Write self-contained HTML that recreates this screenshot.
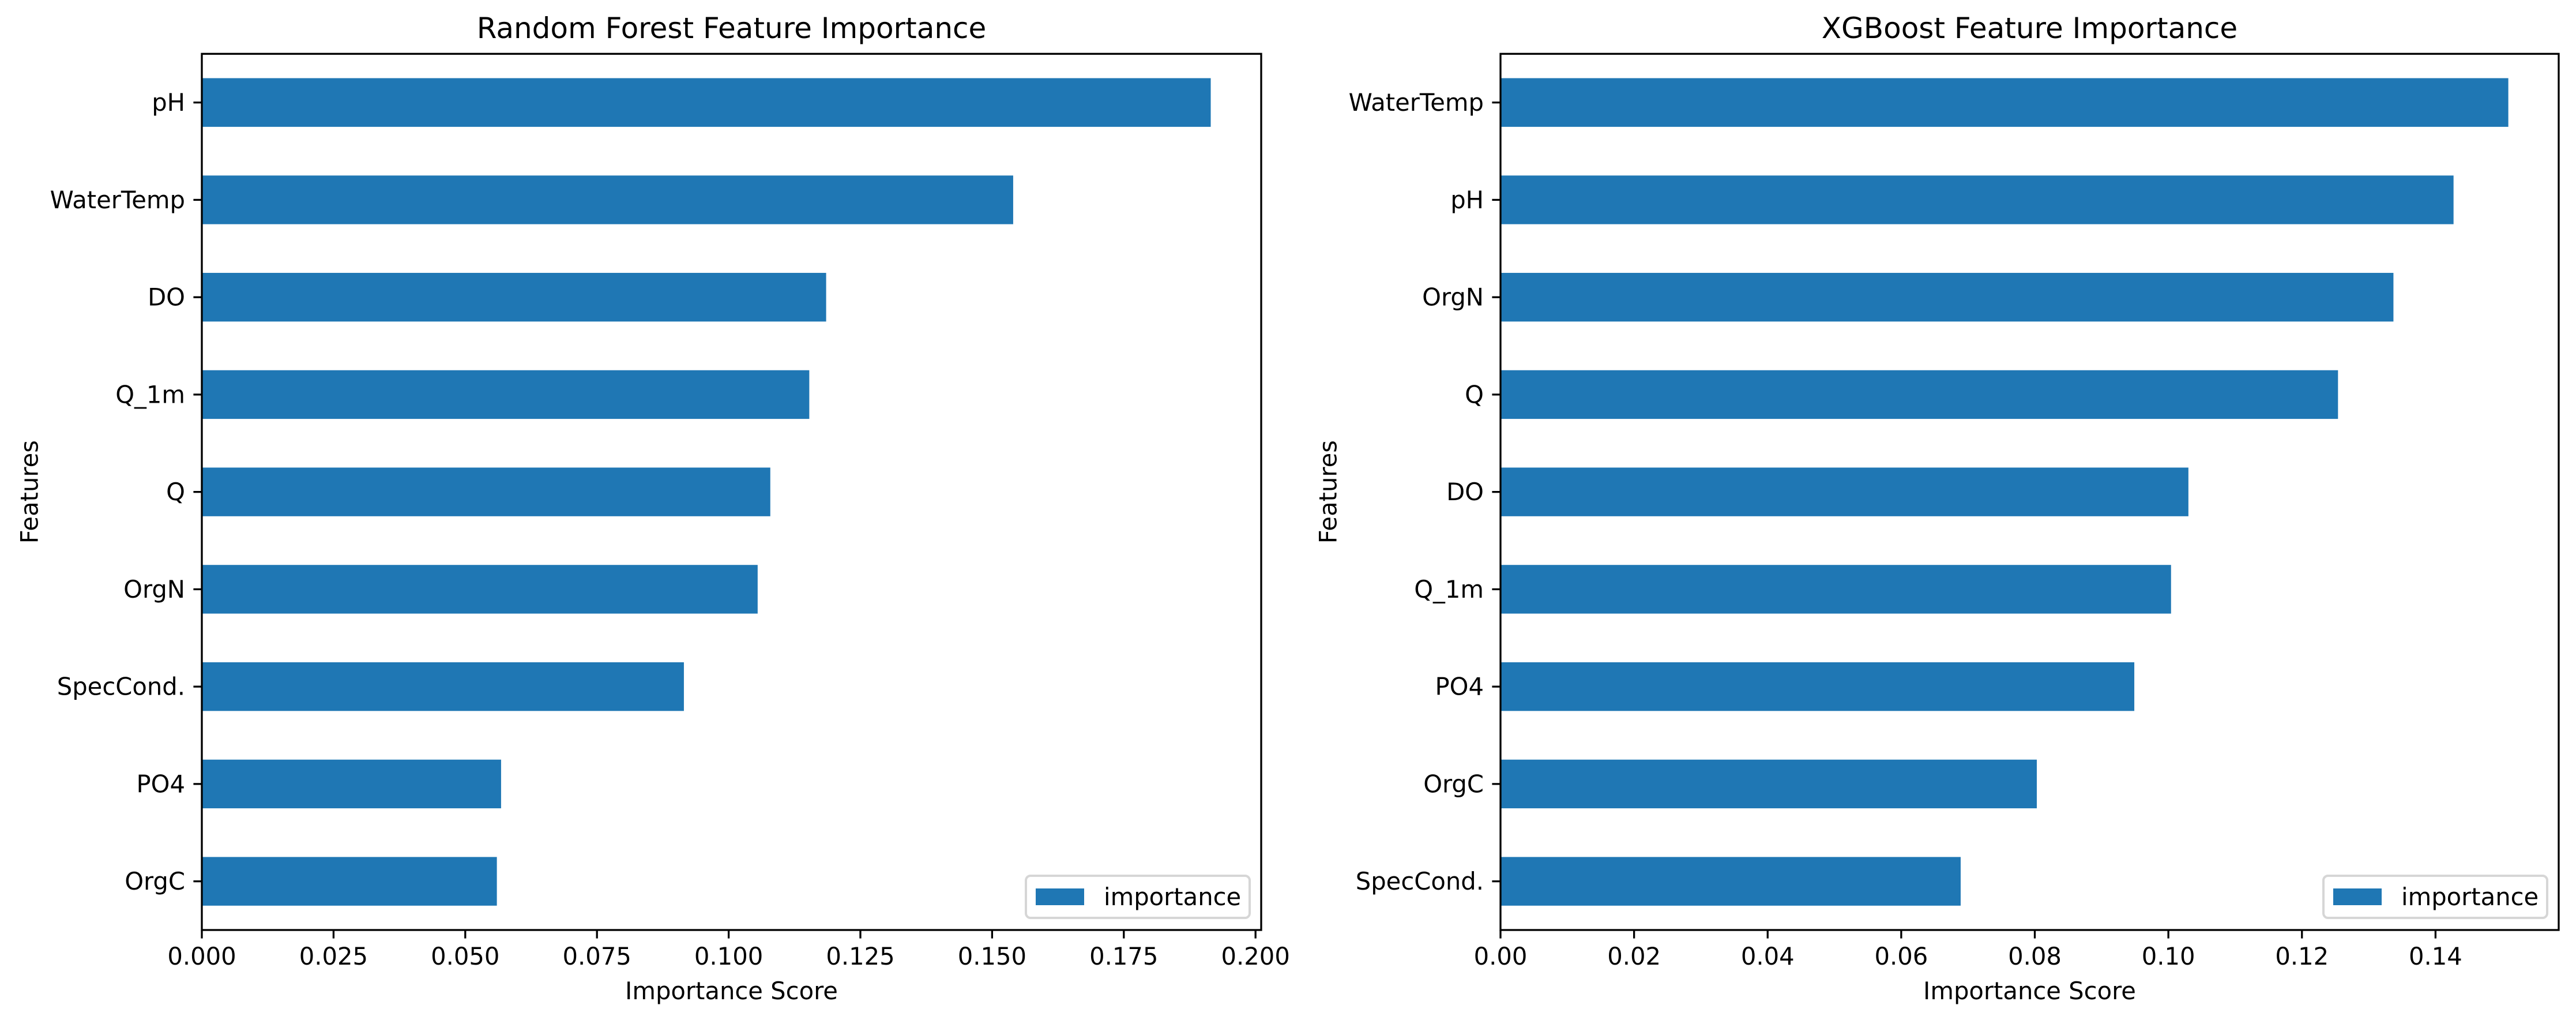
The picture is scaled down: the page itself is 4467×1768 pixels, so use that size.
<!DOCTYPE html>
<html><head><meta charset="utf-8"><style>
html,body{margin:0;padding:0;background:#fff}
svg{display:block}
text{font-family:"DejaVu Sans","Liberation Sans",sans-serif;fill:#000}
</style></head><body>
<svg id="fig" xmlns="http://www.w3.org/2000/svg" width="4467" height="1768" viewBox="0 0 4467 1768"></svg>
<script>
const rfFeatures = ["pH","WaterTemp","DO","Q_1m","Q","OrgN","SpecCond.","PO4","OrgC"];
const rfValues = [0.1915,0.1540,0.1185,0.1153,0.1079,0.1055,0.0915,0.0568,0.0560];
const rfTicks = [0,0.025,0.05,0.075,0.1,0.125,0.15,0.175,0.2];
const rfTickLabels = ["0.000","0.025","0.050","0.075","0.100","0.125","0.150","0.175","0.200"];
const xgFeatures = ["WaterTemp","pH","OrgN","Q","DO","Q_1m","PO4","OrgC","SpecCond."];
const xgValues = [0.1509,0.1427,0.1337,0.1254,0.1030,0.1004,0.0949,0.0803,0.0689];
const xgTicks = [0,0.02,0.04,0.06,0.08,0.10,0.12,0.14];
const xgTickLabels = ["0.00","0.02","0.04","0.06","0.08","0.10","0.12","0.14"];

const NS="http://www.w3.org/2000/svg";
const svg=document.getElementById('fig');
function mk(tag,attrs,parent){const e=document.createElementNS(NS,tag);for(const k in attrs)e.setAttribute(k,attrs[k]);(parent||svg).appendChild(e);return e;}

function panel(key,L,R,title,feats,vals,ticks,tickLabels){
  const T=93.3,B=1612;
  const g=mk('g',{});
  
  
  const xmax=Math.max(...vals)*1.05;
  const x=v=>L+(v/xmax)*(R-L);
  const n=feats.length;
  const unit=(B-T)/n;
  const y=i=>T+unit*(i+0.5);
  // bars
  vals.forEach((v,i)=>{
    const r=mk('rect',{x:L,y:y(i)-unit*0.25,width:x(v)-L,height:unit*0.5,fill:'#1f77b4'},g);
    
    
  });
  // y ticks
  feats.forEach((f,i)=>{
    mk('line',{x1:L-14.6,x2:L,y1:y(i),y2:y(i),stroke:'#000','stroke-width':3.3},g);
    const t=mk('text',{x:L-29,y:y(i),'text-anchor':'end','dominant-baseline':'central','font-size':41.7},g);
    t.textContent=f;
    
    
  });
  // x ticks
  ticks.forEach((v,i)=>{
    mk('line',{x1:x(v),x2:x(v),y1:B,y2:B+14.6,stroke:'#000','stroke-width':3.3},g);
    const t=mk('text',{x:x(v),y:B+29+31,'text-anchor':'middle','font-size':41.7},g);
    t.textContent=tickLabels[i];
    
    
  });
  // frame
  const fr=mk('rect',{x:L,y:T,width:R-L,height:B-T,fill:'none',stroke:'#000','stroke-width':3.3,'stroke-linejoin':'miter'},g);
  
  
  // title
  const tt=mk('text',{x:(L+R)/2,y:66,'text-anchor':'middle','font-size':50},g);
  tt.textContent=title;
  
  
  // x label
  const xl=mk('text',{x:(L+R)/2,y:1732,'text-anchor':'middle','font-size':41.7},g);
  xl.textContent='Importance Score';
  
  
  // y label
  const lx=L-299;
  const yl=mk('text',{x:lx,y:(T+B)/2,'text-anchor':'middle','dominant-baseline':'central','font-size':41.7,transform:'rotate(-90 '+lx+' '+((T+B)/2)+')'},g);
  yl.textContent='Features';
  
  
  // legend
  const lg=mk('g',{},g);
  
  
  const lr=R-20, lw=388;
  mk('rect',{x:lr-lw,y:1518,width:lw,height:73,rx:8,fill:'#fff','fill-opacity':0.8,stroke:'#d6d6d6','stroke-width':4},lg);
  const p=mk('rect',{x:lr-lw+17,y:1540,width:84,height:29,fill:'#1f77b4'},lg);
  
  
  const lt=mk('text',{x:lr-lw+135,y:1569,'font-size':41.7},lg);
  lt.textContent='importance';
  
  
}
panel('random-forest',350,2187,'Random Forest Feature Importance',rfFeatures,rfValues,rfTicks,rfTickLabels);
panel('xgboost',2602,4437,'XGBoost Feature Importance',xgFeatures,xgValues,xgTicks,xgTickLabels);
</script>
</body></html>
